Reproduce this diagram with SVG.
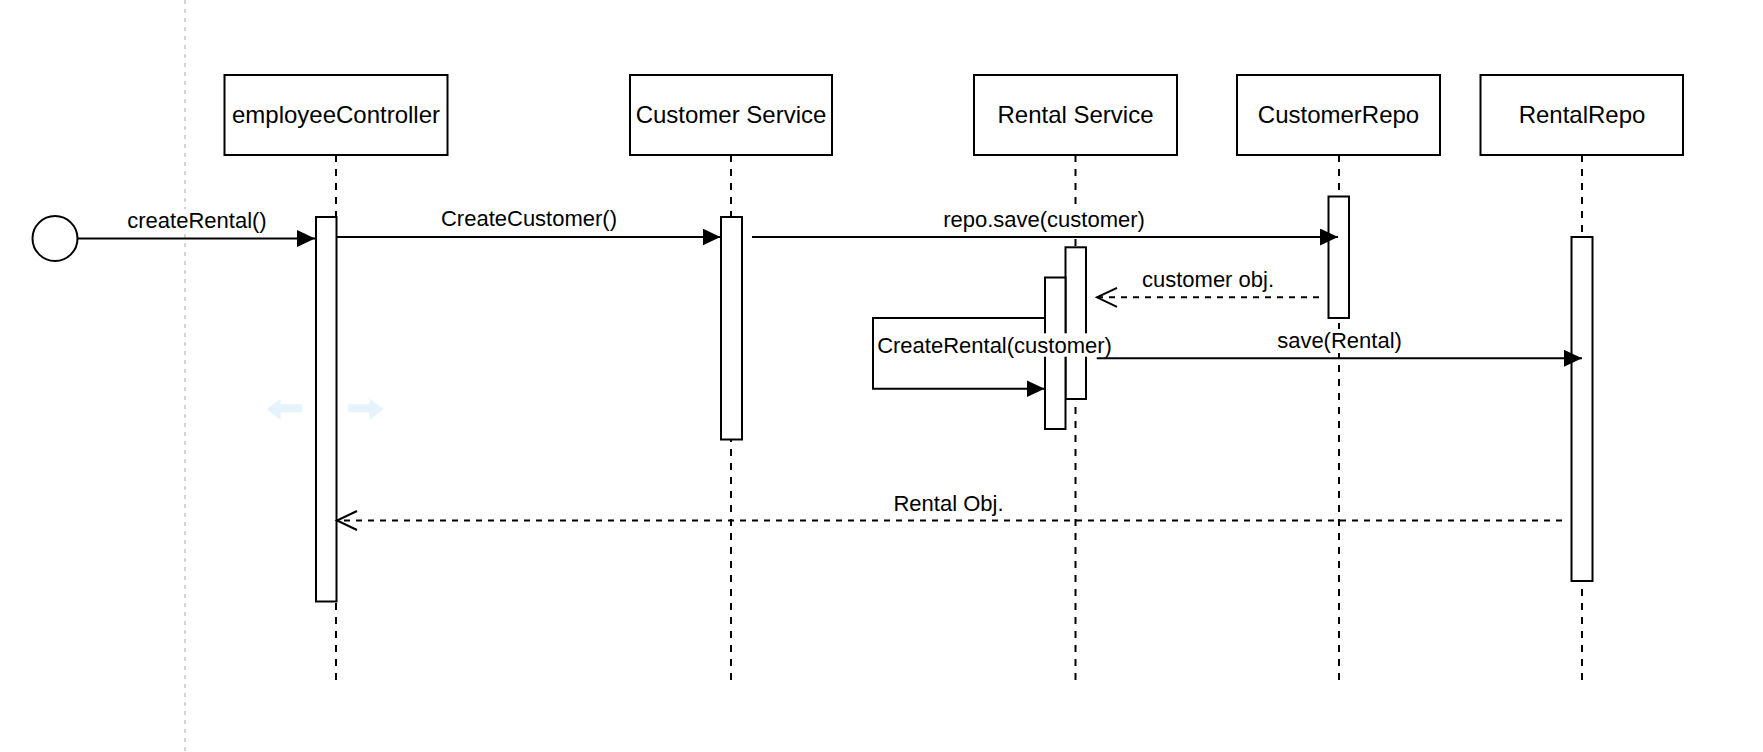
<svg xmlns="http://www.w3.org/2000/svg" width="1763" height="752" viewBox="0 0 1763 752">
<style>
.box{fill:#fff;stroke:#000;stroke-width:2}
.life{stroke:#000;stroke-width:2;stroke-dasharray:7 7;fill:none}
.act{fill:#fff;stroke:#000;stroke-width:2}
.nt{font-family:"Liberation Sans",Arial,sans-serif;font-size:24px;fill:#000;text-anchor:middle}
.lt{font-family:"Liberation Sans",Arial,sans-serif;font-size:22px;fill:#000;text-anchor:middle}
.msg{stroke:#000;stroke-width:2;fill:none}
.ret{stroke:#000;stroke-width:2;fill:none;stroke-dasharray:6 6}
.bg{fill:#fff}
.hint{fill:#e4f3fc}
</style>
<defs>
<marker id="filled" markerUnits="userSpaceOnUse" markerWidth="18" markerHeight="18" refX="18" refY="8.5" orient="auto">
<path d="M0,0 L18,8.5 L0,17 z" fill="#000"/>
</marker>
<marker id="open" markerUnits="userSpaceOnUse" markerWidth="24" markerHeight="24" refX="21" refY="11" orient="auto">
<path d="M1,1.5 L21,11 L1,20.5" fill="none" stroke="#000" stroke-width="2"/>
</marker>
</defs>
<rect width="1763" height="752" fill="#fff"/>
<line x1="185" y1="0" x2="185" y2="752" stroke="#c8c8c8" stroke-width="1.5" stroke-dasharray="4 5"/>

<g id="start">
<circle cx="55" cy="238.5" r="22.5" fill="#fff" stroke="#000" stroke-width="2"/>
</g>

<g id="employeeController">
<rect class="box" x="224.5" y="75" width="223" height="80"/>
<text class="nt" x="336" y="122.5">employeeController</text>
<line class="life" x1="336" y1="155" x2="336" y2="682"/>
<rect class="act" x="316" y="217" width="20.5" height="384.5"/>
</g>

<g id="customerService">
<rect class="box" x="630" y="75" width="202" height="80"/>
<text class="nt" x="731" y="122.5">Customer Service</text>
<line class="life" x1="731" y1="155" x2="731" y2="682"/>
<rect class="act" x="721" y="217" width="21" height="222.5"/>
</g>

<g id="rentalService">
<rect class="box" x="974" y="75" width="203" height="80"/>
<text class="nt" x="1075.5" y="122.5">Rental Service</text>
<line class="life" x1="1075.5" y1="155" x2="1075.5" y2="682"/>
<rect class="act" x="1065.5" y="247.3" width="20.5" height="151.7"/>
<rect class="act" x="1045" y="277.5" width="20.5" height="151.5"/>
</g>

<g id="customerRepo">
<rect class="box" x="1237" y="75" width="203" height="80"/>
<text class="nt" x="1338.5" y="122.5">CustomerRepo</text>
<line class="life" x1="1339" y1="155" x2="1339" y2="682"/>
<rect class="act" x="1328.5" y="196.5" width="20.5" height="121.5"/>
</g>

<g id="rentalRepo">
<rect class="box" x="1480.5" y="75" width="202.5" height="80"/>
<text class="nt" x="1582" y="122.5">RentalRepo</text>
<line class="life" x1="1582" y1="155" x2="1582" y2="682"/>
<rect class="act" x="1571.5" y="237" width="21" height="344"/>
</g>

<g id="connectors">
<line class="msg" x1="77.5" y1="238.5" x2="315" y2="238.5" marker-end="url(#filled)"/>
<rect class="bg" x="125" y="209" width="144" height="25"/>
<text class="lt" x="197" y="228">createRental()</text>

<line class="msg" x1="336.5" y1="237" x2="720.5" y2="237" marker-end="url(#filled)"/>
<text class="lt" x="529" y="226">CreateCustomer()</text>

<line class="msg" x1="752" y1="237" x2="1338" y2="237" marker-end="url(#filled)"/>
<rect class="bg" x="940" y="208" width="207" height="24"/>
<text class="lt" x="1044" y="226.5">repo.save(customer)</text>

<line class="ret" x1="1319" y1="297.3" x2="1097" y2="297.3" marker-end="url(#open)"/>
<text class="lt" x="1208" y="287">customer obj.</text>

<path class="msg" d="M1045,318 L873,318 L873,388.7 L1044.5,388.7" marker-end="url(#filled)"/>
<rect class="bg" x="875" y="333.3" width="239" height="23.4"/>
<text class="lt" x="994.5" y="352.5">CreateRental(customer)</text>

<line class="msg" x1="1096.7" y1="358.3" x2="1582" y2="358.3" marker-end="url(#filled)"/>
<rect class="bg" x="1274" y="329" width="131" height="24"/>
<text class="lt" x="1339.5" y="347.5">save(Rental)</text>

<line class="ret" x1="1562" y1="520.5" x2="337" y2="520.5" marker-end="url(#open)"/>
<text class="lt" x="948.5" y="510.5">Rental Obj.</text>
</g>

<g id="hints">
<path class="hint" d="M266.7,409 L280.5,398.7 L280.5,404.3 L302,404.3 L302,412.3 L280.5,412.3 L280.5,420 z"/>
<path class="hint" d="M383.5,409 L369.5,398.7 L369.5,404.3 L348,404.3 L348,412.3 L369.5,412.3 L369.5,420 z"/>
</g>
</svg>
